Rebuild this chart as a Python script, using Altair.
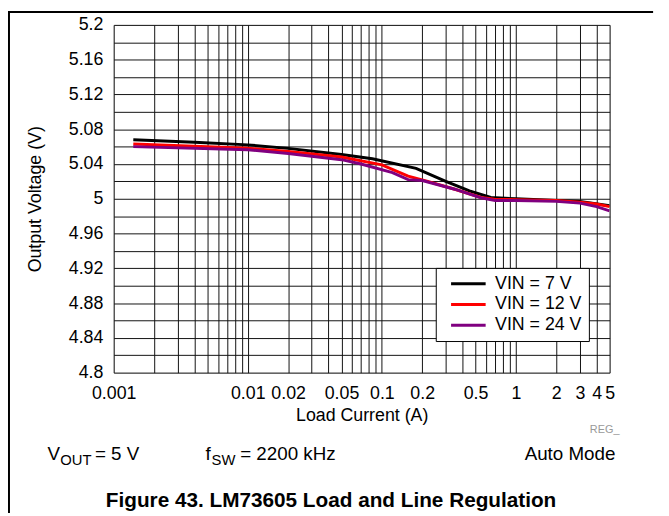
import altair as alt
import pandas as pd

# ---------------- data ----------------
series_names = ["VIN = 7 V", "VIN = 12 V", "VIN = 24 V"]
series_colors = ["#000000", "#ff0000", "#800080"]

current_7v = [0.0014, 0.004, 0.01, 0.02, 0.05, 0.085, 0.18, 0.3, 0.45, 0.65, 1.0, 2.0, 3.0, 5.0]
vout_7v = [5.068, 5.065, 5.062, 5.058, 5.051, 5.046, 5.035, 5.020, 5.009, 5.0015, 5.000, 4.998, 4.997, 4.992]

current_12v = [0.0014, 0.01, 0.02, 0.05, 0.1, 0.157, 0.22, 0.35, 0.55, 0.69, 1.0, 2.0, 3.0, 4.0, 5.0]
vout_12v = [5.063, 5.058, 5.0545, 5.048, 5.039, 5.026, 5.020, 5.011, 5.0015, 4.9995, 4.999, 4.998, 4.996, 4.994, 4.991]

current_24v = [0.0014, 0.01, 0.02, 0.05, 0.07, 0.12, 0.157, 0.2, 0.35, 0.55, 0.7, 1.0, 2.0, 3.0, 4.0, 5.0]
vout_24v = [5.060, 5.0565, 5.052, 5.045, 5.040, 5.030, 5.022, 5.021, 5.011, 5.001, 4.998, 4.998, 4.997, 4.995, 4.991, 4.986]

x_label_values = [0.001, 0.01, 0.02, 0.05, 0.1, 0.2, 0.5, 1, 2, 3, 4, 5]
x_grid_values = [round(k * 10.0 ** e, 6) for e in (-3, -2, -1, 0) for k in range(1, 10) if k * 10.0 ** e <= 5.0001]
y_grid_values = [round(4.8 + 0.02 * i, 2) for i in range(21)]

FONT = "Liberation Sans"

rows = []
for name, cur, vals in [
    (series_names[0], current_7v, vout_7v),
    (series_names[1], current_12v, vout_12v),
    (series_names[2], current_24v, vout_24v),
]:
    for c, v in zip(cur, vals):
        rows.append({"series": name, "I": c, "V": v})
df = pd.DataFrame(rows)

W, H = 502, 352

label_list = ",".join(str(v) for v in x_label_values)

lines = alt.Chart(df).mark_line(strokeWidth=3, clip=True).encode(
    x=alt.X(
        "I:Q",
        scale=alt.Scale(type="log", domain=[0.001, 5], nice=False),
        axis=alt.Axis(
            values=x_grid_values,
            labelExpr=f"indexof([{label_list}], datum.value) >= 0 ? format(datum.value, '~g') : ''",
            title="Load Current (A)",
            grid=True,
            gridColor="#111111",
            gridWidth=1,
            ticks=False,
            domain=False,
            labelFont=FONT,
            labelFontSize=18,
            labelColor="#000000",
            labelPadding=12,
            labelFlush=False,
            labelOverlap=False,
            titleFont=FONT,
            titleFontSize=18,
            titleFontWeight="normal",
            titleColor="#000000",
            titlePadding=4,
        ),
    ),
    y=alt.Y(
        "V:Q",
        scale=alt.Scale(domain=[4.8, 5.2], nice=False, zero=False),
        axis=alt.Axis(
            values=y_grid_values,
            labelExpr="round(datum.value*100) % 4 == 0 ? format(datum.value, '~g') : ''",
            title="Output Voltage (V)",
            grid=True,
            gridColor="#111111",
            gridWidth=1,
            ticks=False,
            domain=False,
            labelFont=FONT,
            labelFontSize=18,
            labelColor="#000000",
            labelPadding=11,
            labelFlush=False,
            labelOverlap=False,
            titleFont=FONT,
            titleFontSize=18,
            titleFontWeight="normal",
            titleColor="#000000",
            titlePadding=24,
        ),
    ),
    color=alt.Color(
        "series:N",
        scale=alt.Scale(domain=series_names, range=series_colors),
        legend=alt.Legend(
            orient="none",
            legendX=326,
            legendY=246,
            title=None,
            symbolType="M-2.5,0H2.5",
            symbolSize=196,
            symbolOffset=17,
            symbolStrokeWidth=3,
            labelFont=FONT,
            labelFontSize=18,
            labelColor="#000000",
            labelOffset=18,
            fillColor="#ffffff",
            strokeColor="#000000",
            padding=7,
            rowPadding=3,
        ),
    ),
    order=alt.Order("I:Q"),
)

one = alt.Data(values=[{}])


def txt(text, x, y, size=19, weight="normal", align="left", color="#000000"):
    return alt.Chart(one).mark_text(
        text=text, font=FONT, fontSize=size, fontWeight=weight, align=align,
        baseline="alphabetic", color=color,
    ).encode(x=alt.value(x), y=alt.value(y))


texts = [
    txt("V", -67, 440),
    txt("OUT", -54, 445, size=15),
    txt("= 5 V", -19, 440),
    txt("f", 93, 440),
    txt("SW", 99, 445, size=15),
    txt("= 2200 kHz", 128, 440),
    txt("Auto Mode", 416, 440),
    txt("REG_", 482, 413, size=11, color="#999999"),
    txt("Figure 43. LM73605 Load and Line Regulation", 220, 488, size=21, weight="bold", align="center"),
]

frame_top = alt.Chart(one).mark_rule(color="#000000", strokeWidth=2).encode(
    x=alt.value(-107), x2=alt.value(546), y=alt.value(-13)
)
frame_left = alt.Chart(one).mark_rule(color="#000000", strokeWidth=2).encode(
    x=alt.value(-106), y=alt.value(-14), y2=alt.value(494)
)

chart = alt.layer(lines, *texts, frame_top, frame_left).properties(
    width=W,
    height=H,
    autosize=alt.AutoSizeParams(type="none"),
    padding={"left": 107, "top": 14, "right": 52, "bottom": 142},
).configure_view(
    stroke="#000000", strokeWidth=3
).configure_legend(
    strokeWidth=2
).configure(background="#ffffff")

chart.save("out.html", embed_options={"renderer": "svg", "actions": False})
